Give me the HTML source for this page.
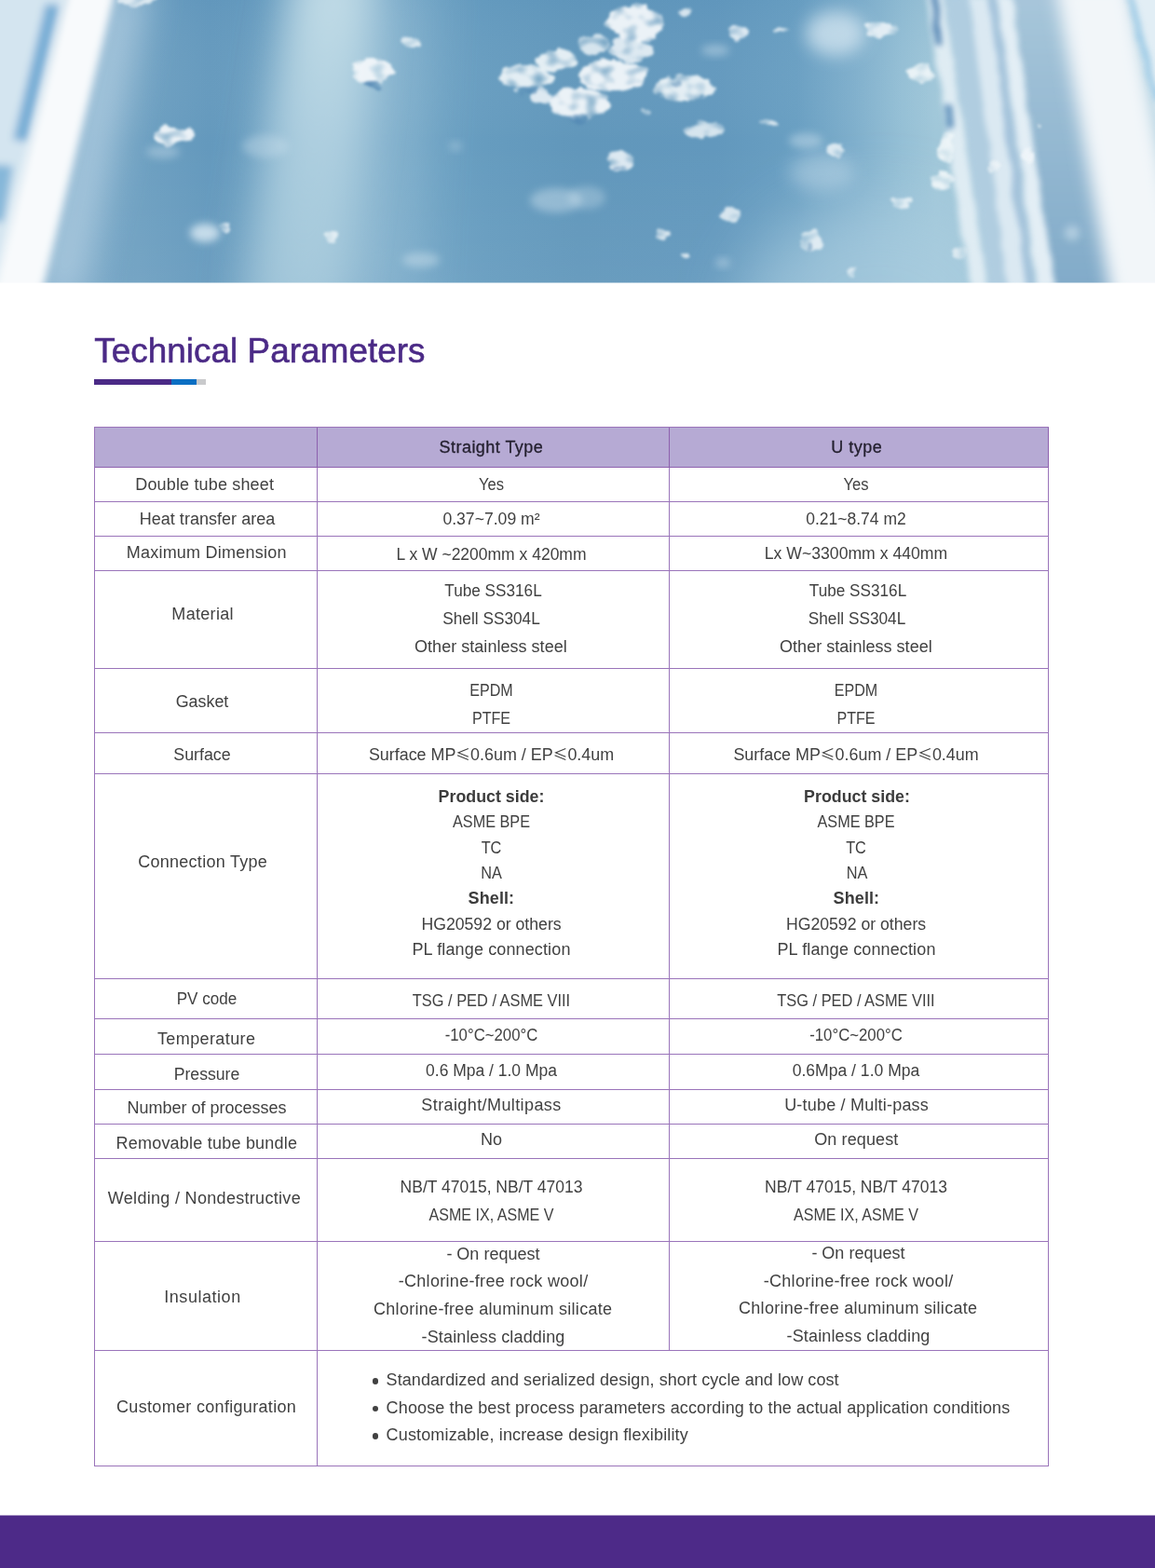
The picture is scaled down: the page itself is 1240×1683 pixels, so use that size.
<!DOCTYPE html>
<html lang="en">
<head>
<meta charset="utf-8">
<title>Technical Parameters</title>
<style>
*{box-sizing:border-box}
html,body{margin:0;padding:0;background:#fff}
body{font-family:"Liberation Sans","Noto Sans CJK SC",sans-serif;font-size:18px;color:#414141;-webkit-font-smoothing:antialiased}
.page{position:relative;width:1240px;height:1683px;overflow:hidden;background:#fff}
.hero{position:absolute;left:0;top:0;width:1240px;height:304px;overflow:hidden;background:#7fa9cb}
.hero svg{display:block}
.title{position:absolute;left:101.2px;top:355.3px;margin:0;font-size:36.8px;line-height:44px;font-weight:400;color:#4b2a86;white-space:nowrap;letter-spacing:0.08px;-webkit-text-stroke:0.6px #4b2a86}
.rule{position:absolute;left:101px;top:407px;width:120px;height:5.5px;display:flex}
.rule i{display:block;height:100%}
.r1{width:83px;background:#4b2a86}
.r2{width:27px;background:#0b6fc3}
.r3{width:10px;background:#c9cacc}
.spec{position:absolute;left:101px;top:458px;width:1025px;table-layout:fixed;border-collapse:separate;border-spacing:0;border-top:1px solid #9a74ba;border-left:1px solid #9a74ba}
.spec th,.spec td{padding:0;vertical-align:top;text-align:center;font-weight:400;border-right:1px solid #9a74ba;border-bottom:1px solid #9a74ba;white-space:nowrap;overflow:visible}
.spec th{background:#b6aad4;color:#231f2e;border-color:#8d60ae}
.spec thead th .l{-webkit-text-stroke:0.3px #231f2e}
.l{position:relative;height:24px;line-height:24px}
.b{font-weight:700;color:#3c3c3c}
.le{font-family:"Noto Sans CJK SC","Liberation Sans",sans-serif;line-height:0;font-size:.88em;position:relative;top:.3px}
.cfg{text-align:left !important}
.cfg ul{margin:0;padding:0 0 0 73.6px;list-style:none}
.cfg li{position:relative;height:24px;line-height:24px;transform-origin:0 50%}
.cfg li::before{content:"";position:absolute;left:-15.1px;top:10.2px;width:6.4px;height:6.4px;border-radius:50%;background:#414141}
.foot{position:absolute;left:0;top:1626px;width:1240px;height:57px;background:linear-gradient(#a694c3,#a694c3 1px,#4d2a88 1px)}

</style>
</head>
<body>
<div class="page">
<header class="hero">
<svg width="1240" height="304" viewBox="0 0 1240 304" role="img" aria-label="Air bubbles rising through water">
<defs>
<linearGradient id="bg" gradientUnits="userSpaceOnUse" x1="0" y1="0" x2="1240" y2="0">
<stop offset="0" stop-color="#71a2c3"/>
<stop offset="0.12" stop-color="#6ea0c1"/>
<stop offset="0.18" stop-color="#6499bd"/>
<stop offset="0.23" stop-color="#679cbf"/>
<stop offset="0.36" stop-color="#6fa3c4"/>
<stop offset="0.42" stop-color="#669cbf"/>
<stop offset="0.5" stop-color="#6197bb"/>
<stop offset="0.62" stop-color="#6298bd"/>
<stop offset="0.69" stop-color="#699fc2"/>
<stop offset="0.74" stop-color="#7fafcc"/>
<stop offset="0.78" stop-color="#94bfd5"/>
<stop offset="0.81" stop-color="#a0c7d9"/>
<stop offset="1" stop-color="#a0c7d9"/>
</linearGradient>
<linearGradient id="vg" gradientUnits="userSpaceOnUse" x1="0" y1="0" x2="0" y2="304">
<stop offset="0" stop-color="#4f86b4" stop-opacity="0.1"/>
<stop offset="0.5" stop-color="#fff" stop-opacity="0"/>
<stop offset="1" stop-color="#fff" stop-opacity="0.05"/>
</linearGradient>
<linearGradient id="shaft" gradientUnits="userSpaceOnUse" x1="0" y1="0" x2="0" y2="304">
<stop offset="0" stop-color="#c6dfe9" stop-opacity="0.9"/>
<stop offset="0.5" stop-color="#bfdbe7" stop-opacity="0.68"/>
<stop offset="1" stop-color="#b9d7e4" stop-opacity="0.55"/>
</linearGradient>
<linearGradient id="zone" gradientUnits="userSpaceOnUse" x1="0" y1="0" x2="0" y2="304">
<stop offset="0" stop-color="#a7c6da"/>
<stop offset="1" stop-color="#82abc9"/>
</linearGradient>
<filter id="bub" x="-5%" y="-5%" width="110%" height="110%" color-interpolation-filters="sRGB">
<feTurbulence type="fractalNoise" baseFrequency="0.075 0.1" numOctaves="2" seed="11" result="n"/>
<feDisplacementMap in="SourceGraphic" in2="n" scale="12" xChannelSelector="R" yChannelSelector="G" result="d"/>
<feTurbulence type="fractalNoise" baseFrequency="0.07 0.1" numOctaves="1" seed="3" result="n2"/>
<feColorMatrix in="n2" type="matrix" values="0 0 0 0 1  0 0 0 0 1  0 0 0 0 1  2.4 0 0 0 -0.25" result="m"/>
<feComposite in="d" in2="m" operator="in" result="c"/>
<feGaussianBlur in="c" stdDeviation="1.7"/>
</filter>
<filter id="pipe" x="-5%" y="-5%" width="110%" height="110%" color-interpolation-filters="sRGB">
<feTurbulence type="fractalNoise" baseFrequency="0.05 0.03" numOctaves="2" seed="5" result="n"/>
<feDisplacementMap in="SourceGraphic" in2="n" scale="7" xChannelSelector="R" yChannelSelector="G"/>
<feGaussianBlur stdDeviation="3"/>
</filter>
<filter id="f1" x="-40%" y="-40%" width="180%" height="180%"><feGaussianBlur stdDeviation="1.1"/></filter>
<filter id="f2" x="-40%" y="-40%" width="180%" height="180%"><feGaussianBlur stdDeviation="2.2"/></filter>
<filter id="f4" x="-50%" y="-50%" width="200%" height="200%"><feGaussianBlur stdDeviation="4.5"/></filter>
<filter id="f8" x="-60%" y="-60%" width="220%" height="220%"><feGaussianBlur stdDeviation="9"/></filter>
<filter id="f32" x="-80%" y="-80%" width="260%" height="260%"><feGaussianBlur stdDeviation="34"/></filter>
<filter id="f16" x="-80%" y="-80%" width="260%" height="260%"><feGaussianBlur stdDeviation="20"/></filter>
</defs>
<rect width="1240" height="304" fill="url(#bg)"/>
<rect width="1240" height="304" fill="url(#vg)"/>
<!-- soft light shaft -->
<polygon filter="url(#f32)" points="330,-40 450,-40 430,344 270,344" fill="#b4d3e2" opacity="0.45"/>
<polygon filter="url(#f16)" points="318,-40 402,-40 392,120 368,344 262,344 292,120" fill="url(#shaft)"/>
<ellipse filter="url(#f32)" cx="945" cy="345" rx="150" ry="130" fill="#a9ccdf" opacity="0.7"/>
<!-- left frame -->
<polygon filter="url(#f16)" points="112,-20 160,-20 88,324 36,324" fill="#b7d2e4" opacity="0.8"/>
<g filter="url(#f4)">
<polygon points="-20,-10 76,-10 -2,330 -20,330" fill="#d4e5f0"/>
<polygon points="49,4 65,6 30,152 14,150" fill="#79aed6"/>
<polygon points="-10,176 14,178 4,238 -10,238" fill="#86b7d9"/>
</g>
<polygon filter="url(#f4)" points="72,-10 124,-10 45,314 -8,314" fill="#f8fafc"/>
<!-- right frame -->
<polygon filter="url(#f4)" points="1080,-10 1160,-10 1206,314 1122,314" fill="url(#zone)"/>
<polygon filter="url(#f8)" points="1132,-20 1212,-20 1275,324 1194,324" fill="#f2f6f9"/>
<polygon filter="url(#f4)" points="1210,-10 1262,-10 1262,200" fill="#e2eef5"/>
<g filter="url(#pipe)">
<polygon points="994,-5 1013,-5 1060,310 1042,310" fill="#dfecf3"/>
<polygon points="1014,-5 1040,-5 1086,310 1062,310" fill="#b0cde0"/>
<polygon points="1040,-5 1060,-5 1102,310 1082,310" fill="#dbe9f2"/>
<polygon points="1060,-5 1070,-5 1112,310 1102,310" fill="#a3c2da"/>
<polygon points="1070,-5 1086,-5 1132,310 1114,310" fill="#e3eef5"/>
<polygon points="1000,-5 1007,-5 1012,50 1005,50" fill="#4d80b0"/>
<polygon points="1014,112 1022,112 1024,138 1017,138" fill="#5f90bb"/>
<polygon points="1209,-5 1215,-5 1246,110 1240,110" fill="#9ccae6"/>
</g>
<!-- out-of-focus blobs -->
<ellipse cx="175" cy="163" rx="18" ry="7" fill="#dcebf4" opacity="0.35" filter="url(#f4)"/>
<ellipse cx="220" cy="250" rx="16" ry="10" fill="#dcebf4" opacity="0.8" filter="url(#f4)"/>
<ellipse cx="285" cy="157" rx="25" ry="12" fill="#dcebf4" opacity="0.3" filter="url(#f4)"/>
<ellipse cx="597" cy="215" rx="28" ry="13" fill="#dcebf4" opacity="0.4" filter="url(#f4)"/>
<ellipse cx="630" cy="212" rx="20" ry="12" fill="#dcebf4" opacity="0.3" filter="url(#f4)"/>
<ellipse cx="452" cy="279" rx="20" ry="8" fill="#dcebf4" opacity="0.4" filter="url(#f4)"/>
<ellipse cx="768" cy="54" rx="15" ry="6" fill="#dcebf4" opacity="0.4" filter="url(#f4)"/>
<ellipse cx="897" cy="36" rx="32" ry="24" fill="#dcebf4" opacity="0.7" filter="url(#f8)"/>
<ellipse cx="865" cy="151" rx="18" ry="8" fill="#dcebf4" opacity="0.4" filter="url(#f4)"/>
<ellipse cx="882" cy="185" rx="35" ry="20" fill="#dcebf4" opacity="0.35" filter="url(#f8)"/>
<ellipse cx="776" cy="282" rx="8" ry="5" fill="#dcebf4" opacity="0.4" filter="url(#f4)"/>
<ellipse cx="1151" cy="250" rx="8" ry="8" fill="#dcebf4" opacity="0.5" filter="url(#f4)"/>
<ellipse cx="489" cy="157" rx="7" ry="5" fill="#dcebf4" opacity="0.3" filter="url(#f4)"/>
<!-- bubbles -->
<g filter="url(#bub)">
<ellipse cx="682" cy="25" rx="30" ry="19" fill="#f2f7fa" opacity="0.95"/>
<ellipse cx="678" cy="53" rx="23" ry="13" fill="#f2f7fa" opacity="0.85"/>
<ellipse cx="598" cy="65" rx="21" ry="12" fill="#f2f7fa" opacity="0.9"/>
<ellipse cx="565" cy="83" rx="27" ry="14" fill="#f2f7fa" opacity="0.9"/>
<ellipse cx="657" cy="81" rx="38" ry="16" fill="#f2f7fa" opacity="0.95"/>
<ellipse cx="621" cy="111" rx="33" ry="17" fill="#f2f7fa" opacity="0.95"/>
<ellipse cx="581" cy="104" rx="11" ry="9" fill="#f2f7fa" opacity="0.85"/>
<ellipse cx="637" cy="48" rx="18" ry="11" fill="#f2f7fa" opacity="0.8"/>
<ellipse cx="734" cy="94" rx="31" ry="14" fill="#f2f7fa" opacity="0.9"/>
<ellipse cx="737" cy="13" rx="6" ry="4" fill="#f2f7fa" opacity="0.8"/>
<ellipse cx="791" cy="34" rx="11" ry="9" fill="#f2f7fa" opacity="0.85"/>
<ellipse cx="693" cy="120" rx="6" ry="3" fill="#f2f7fa" opacity="0.8"/>
<ellipse cx="757" cy="140" rx="23" ry="8" fill="#f2f7fa" opacity="0.8"/>
<ellipse cx="666" cy="173" rx="15" ry="10" fill="#f2f7fa" opacity="0.85"/>
<ellipse cx="840" cy="33" rx="8" ry="3" fill="#f2f7fa" opacity="0.8"/>
<ellipse cx="826" cy="132" rx="11" ry="4" fill="#f2f7fa" opacity="0.8"/>
<ellipse cx="896" cy="161" rx="9" ry="6" fill="#f2f7fa" opacity="0.8"/>
<ellipse cx="784" cy="231" rx="10" ry="8" fill="#f2f7fa" opacity="0.8"/>
<ellipse cx="712" cy="251" rx="8" ry="5" fill="#f2f7fa" opacity="0.8"/>
<ellipse cx="870" cy="259" rx="12" ry="11" fill="#f2f7fa" opacity="0.8"/>
<ellipse cx="736" cy="274" rx="5" ry="2" fill="#f2f7fa" opacity="0.8"/>
<ellipse cx="915" cy="292" rx="4" ry="4" fill="#f2f7fa" opacity="0.8"/>
<ellipse cx="400" cy="77" rx="23" ry="13" fill="#f2f7fa" opacity="0.95"/>
<ellipse cx="442" cy="46" rx="11" ry="6" fill="#f2f7fa" opacity="0.8"/>
<ellipse cx="357" cy="254" rx="9" ry="6" fill="#f2f7fa" opacity="0.8"/>
<ellipse cx="185" cy="146" rx="21" ry="10" fill="#f2f7fa" opacity="0.95"/>
<ellipse cx="242" cy="244" rx="6" ry="5" fill="#f2f7fa" opacity="0.85"/>
<ellipse cx="147" cy="0" rx="20" ry="6" fill="#f2f7fa" opacity="0.8"/>
<ellipse cx="945" cy="32" rx="16" ry="9" fill="#f2f7fa" opacity="0.85"/>
<ellipse cx="989" cy="78" rx="14" ry="10" fill="#f2f7fa" opacity="0.9"/>
<ellipse cx="1016" cy="160" rx="9" ry="15" fill="#f2f7fa" opacity="0.9"/>
<ellipse cx="1011" cy="194" rx="13" ry="9" fill="#f2f7fa" opacity="0.9"/>
<ellipse cx="969" cy="217" rx="12" ry="4" fill="#f2f7fa" opacity="0.8"/>
<ellipse cx="1030" cy="272" rx="8" ry="6" fill="#f2f7fa" opacity="0.7"/>
<ellipse cx="1115" cy="135" rx="3" ry="2" fill="#f2f7fa" opacity="0.9"/>
<ellipse cx="1102" cy="167" rx="6" ry="10" fill="#f2f7fa" opacity="0.85"/>
<ellipse cx="1067" cy="180" rx="7" ry="7" fill="#f2f7fa" opacity="0.7"/>
<ellipse cx="400" cy="90" rx="9" ry="5" fill="#4f84b2" opacity="0.85"/>
<ellipse cx="567" cy="97" rx="10" ry="4" fill="#4f84b2" opacity="0.7"/>
<ellipse cx="619" cy="127" rx="12" ry="3" fill="#4f84b2" opacity="0.6"/>
<ellipse cx="726" cy="90" rx="6" ry="4" fill="#4f84b2" opacity="0.5"/>
<ellipse cx="666" cy="180" rx="5" ry="2" fill="#4f84b2" opacity="0.5"/>
<ellipse cx="870" cy="266" rx="3" ry="4" fill="#4f84b2" opacity="0.5"/>
</g>
<rect y="303.5" width="1240" height="0.5" fill="#fff"/>
</svg>
</header>
<main>
<h1 class="title">Technical Parameters</h1>
<div class="rule"><i class="r1"></i><i class="r2"></i><i class="r3"></i></div>
<table class="spec">
<colgroup><col style="width:239px"><col style="width:378px"><col style="width:407px"></colgroup>
<thead>
<tr style="height:43px"><th></th><th><div class="l" style="margin-top:9.3px;letter-spacing:0.46px;left:-2.1px">Straight Type</div></th><th><div class="l" style="margin-top:9.3px;letter-spacing:0.52px;left:-2.3px">U type</div></th></tr>
</thead>
<tbody>
<tr style="height:37px"><td><div class="l" style="margin-top:5.7px;letter-spacing:0.16px;left:-1.3px">Double tube sheet</div></td><td><div class="l" style="margin-top:5.7px;left:-2.5px;transform:scaleX(0.920)">Yes</div></td><td><div class="l" style="margin-top:5.7px;left:-3.0px;transform:scaleX(0.920)">Yes</div></td></tr>
<tr style="height:37px"><td><div class="l" style="margin-top:6.2px;letter-spacing:0.03px;left:1.5px">Heat transfer area</div></td><td><div class="l" style="margin-top:6.0px;left:-2.4px;transform:scaleX(0.978)">0.37~7.09 m²</div></td><td><div class="l" style="margin-top:5.5px;left:-3.0px;transform:scaleX(0.972)">0.21~8.74 m2</div></td></tr>
<tr style="height:37px"><td><div class="l" style="margin-top:4.8px;letter-spacing:0.23px;left:0.7px">Maximum Dimension</div></td><td><div class="l" style="margin-top:6.5px;left:-2.2px;transform:scaleX(0.972)">L x W ~2200mm x 420mm</div></td><td><div class="l" style="margin-top:6.0px;left:-2.6px;transform:scaleX(0.979)">Lx W~3300mm x 440mm</div></td></tr>
<tr style="height:105px"><td><div class="l" style="margin-top:33.9px;letter-spacing:0.31px;left:-3.4px">Material</div></td><td><div class="l" style="margin-top:9.4px;left:-0.1px;transform:scaleX(0.954)">Tube SS316L</div><div class="l" style="margin-top:5.5px;left:-2.0px;transform:scaleX(0.958)">Shell SS304L</div><div class="l" style="margin-top:6.0px;letter-spacing:0.03px;left:-2.6px">Other stainless steel</div></td><td><div class="l" style="margin-top:9.4px;left:-0.6px;transform:scaleX(0.954)">Tube SS316L</div><div class="l" style="margin-top:5.5px;left:-2.5px;transform:scaleX(0.958)">Shell SS304L</div><div class="l" style="margin-top:6.0px;letter-spacing:0.03px;left:-3.1px">Other stainless steel</div></td></tr>
<tr style="height:69px"><td><div class="l" style="margin-top:23.2px;left:-3.6px;transform:scaleX(0.993)">Gasket</div></td><td><div class="l" style="margin-top:10.6px;left:-2.5px;transform:scaleX(0.893)">EPDM</div><div class="l" style="margin-top:6.0px;left:-2.2px;transform:scaleX(0.894)">PTFE</div></td><td><div class="l" style="margin-top:10.6px;left:-3.0px;transform:scaleX(0.893)">EPDM</div><div class="l" style="margin-top:6.0px;left:-2.8px;transform:scaleX(0.894)">PTFE</div></td></tr>
<tr style="height:44px"><td><div class="l" style="margin-top:10.8px;left:-3.6px;transform:scaleX(0.990)">Surface</div></td><td><div class="l" style="margin-top:10.8px;left:-2.5px;transform:scaleX(0.994)">Surface MP<span class="le">≤</span>0.6um / EP<span class="le">≤</span>0.4um</div></td><td><div class="l" style="margin-top:10.8px;left:-3.0px;transform:scaleX(0.994)">Surface MP<span class="le">≤</span>0.6um / EP<span class="le">≤</span>0.4um</div></td></tr>
<tr style="height:220px"><td><div class="l" style="margin-top:81.8px;letter-spacing:0.28px;left:-3.4px">Connection Type</div></td><td><div class="l b" style="margin-top:12.0px;left:-1.9px;transform:scaleX(0.990)">Product side:</div><div class="l" style="margin-top:3.3px;left:-2.4px;transform:scaleX(0.901)">ASME BPE</div><div class="l" style="margin-top:3.6px;left:-2.2px;transform:scaleX(0.905)">TC</div><div class="l" style="margin-top:3.3px;left:-2.0px;transform:scaleX(0.905)">NA</div><div class="l b" style="margin-top:3.1px;letter-spacing:0.10px;left:-2.1px">Shell:</div><div class="l" style="margin-top:3.6px;left:-2.1px;transform:scaleX(0.981)">HG20592 or others</div><div class="l" style="margin-top:3.1px;letter-spacing:0.13px;left:-2.0px">PL flange connection</div></td><td><div class="l b" style="margin-top:12.0px;left:-2.4px;transform:scaleX(0.990)">Product side:</div><div class="l" style="margin-top:3.3px;left:-2.9px;transform:scaleX(0.901)">ASME BPE</div><div class="l" style="margin-top:3.6px;left:-2.8px;transform:scaleX(0.905)">TC</div><div class="l" style="margin-top:3.3px;left:-2.5px;transform:scaleX(0.905)">NA</div><div class="l b" style="margin-top:3.1px;letter-spacing:0.10px;left:-2.6px">Shell:</div><div class="l" style="margin-top:3.6px;left:-2.6px;transform:scaleX(0.981)">HG20592 or others</div><div class="l" style="margin-top:3.1px;letter-spacing:0.13px;left:-2.5px">PL flange connection</div></td></tr>
<tr style="height:43px"><td><div class="l" style="margin-top:9.4px;left:0.9px;transform:scaleX(0.948)">PV code</div></td><td><div class="l" style="margin-top:11.4px;left:-2.2px;transform:scaleX(0.910)">TSG / PED / ASME VIII</div></td><td><div class="l" style="margin-top:11.4px;left:-2.8px;transform:scaleX(0.910)">TSG / PED / ASME VIII</div></td></tr>
<tr style="height:38px"><td><div class="l" style="margin-top:8.7px;letter-spacing:0.40px;left:0.7px">Temperature</div></td><td><div class="l" style="margin-top:5.4px;left:-2.5px;transform:scaleX(0.931)">-10°C~200°C</div></td><td><div class="l" style="margin-top:5.4px;left:-3.0px;transform:scaleX(0.931)">-10°C~200°C</div></td></tr>
<tr style="height:38px"><td><div class="l" style="margin-top:8.5px;left:1.0px;transform:scaleX(0.980)">Pressure</div></td><td><div class="l" style="margin-top:4.5px;left:-2.5px;transform:scaleX(0.971)">0.6 Mpa / 1.0 Mpa</div></td><td><div class="l" style="margin-top:4.5px;left:-3.0px;transform:scaleX(0.975)">0.6Mpa / 1.0 Mpa</div></td></tr>
<tr style="height:37px"><td><div class="l" style="margin-top:7.3px;left:1.0px">Number of processes</div></td><td><div class="l" style="margin-top:3.7px;letter-spacing:0.40px;left:-2.0px">Straight/Multipass</div></td><td><div class="l" style="margin-top:3.7px;letter-spacing:0.20px;left:-2.4px">U-tube / Multi-pass</div></td></tr>
<tr style="height:37px"><td><div class="l" style="margin-top:8.1px;letter-spacing:0.22px;left:0.9px">Removable tube bundle</div></td><td><div class="l" style="margin-top:4.3px;left:-2.1px">No</div></td><td><div class="l" style="margin-top:4.3px;letter-spacing:0.12px;left:-2.7px">On request</div></td></tr>
<tr style="height:89px"><td><div class="l" style="margin-top:30.3px;letter-spacing:0.31px;left:-1.6px">Welding / Nondestructive</div></td><td><div class="l" style="margin-top:17.8px;left:-2.2px;transform:scaleX(0.972)">NB/T 47015, NB/T 47013</div><div class="l" style="margin-top:6.3px;left:-2.2px;transform:scaleX(0.893)">ASME IX, ASME V</div></td><td><div class="l" style="margin-top:17.8px;left:-2.8px;transform:scaleX(0.972)">NB/T 47015, NB/T 47013</div><div class="l" style="margin-top:6.3px;left:-2.8px;transform:scaleX(0.893)">ASME IX, ASME V</div></td></tr>
<tr style="height:117px"><td><div class="l" style="margin-top:47.1px;letter-spacing:0.54px;left:-3.5px">Insulation</div></td><td><div class="l" style="margin-top:0.7px;left:-0.1px">- On request</div><div class="l" style="margin-top:5.8px;letter-spacing:0.31px;left:0.1px">-Chlorine-free rock wool/</div><div class="l" style="margin-top:5.7px;letter-spacing:0.30px;left:-0.3px">Chlorine-free aluminum silicate</div><div class="l" style="margin-top:5.5px;letter-spacing:0.15px">-Stainless cladding</div></td><td><div class="l" style="margin-top:0.0px;left:-0.6px">- On request</div><div class="l" style="margin-top:5.8px;letter-spacing:0.31px;left:-0.4px">-Chlorine-free rock wool/</div><div class="l" style="margin-top:5.7px;letter-spacing:0.30px;left:-0.8px">Chlorine-free aluminum silicate</div><div class="l" style="margin-top:5.5px;letter-spacing:0.15px;left:-0.5px">-Stainless cladding</div></td></tr>
<tr style="height:124px"><td><div class="l" style="margin-top:47.9px;letter-spacing:0.32px;left:0.6px">Customer configuration</div></td><td colspan="2" class="cfg"><ul><li style="margin-top:19.0px;letter-spacing:0.08px">Standardized and serialized design, short cycle and low cost</li><li style="margin-top:5.5px;letter-spacing:0.14px">Choose the best process parameters according to the actual application conditions</li><li style="margin-top:5.5px;letter-spacing:0.15px">Customizable, increase design flexibility</li></ul></td></tr>
</tbody>
</table>
</main>
<footer class="foot"></footer>
</div>
</body>
</html>
